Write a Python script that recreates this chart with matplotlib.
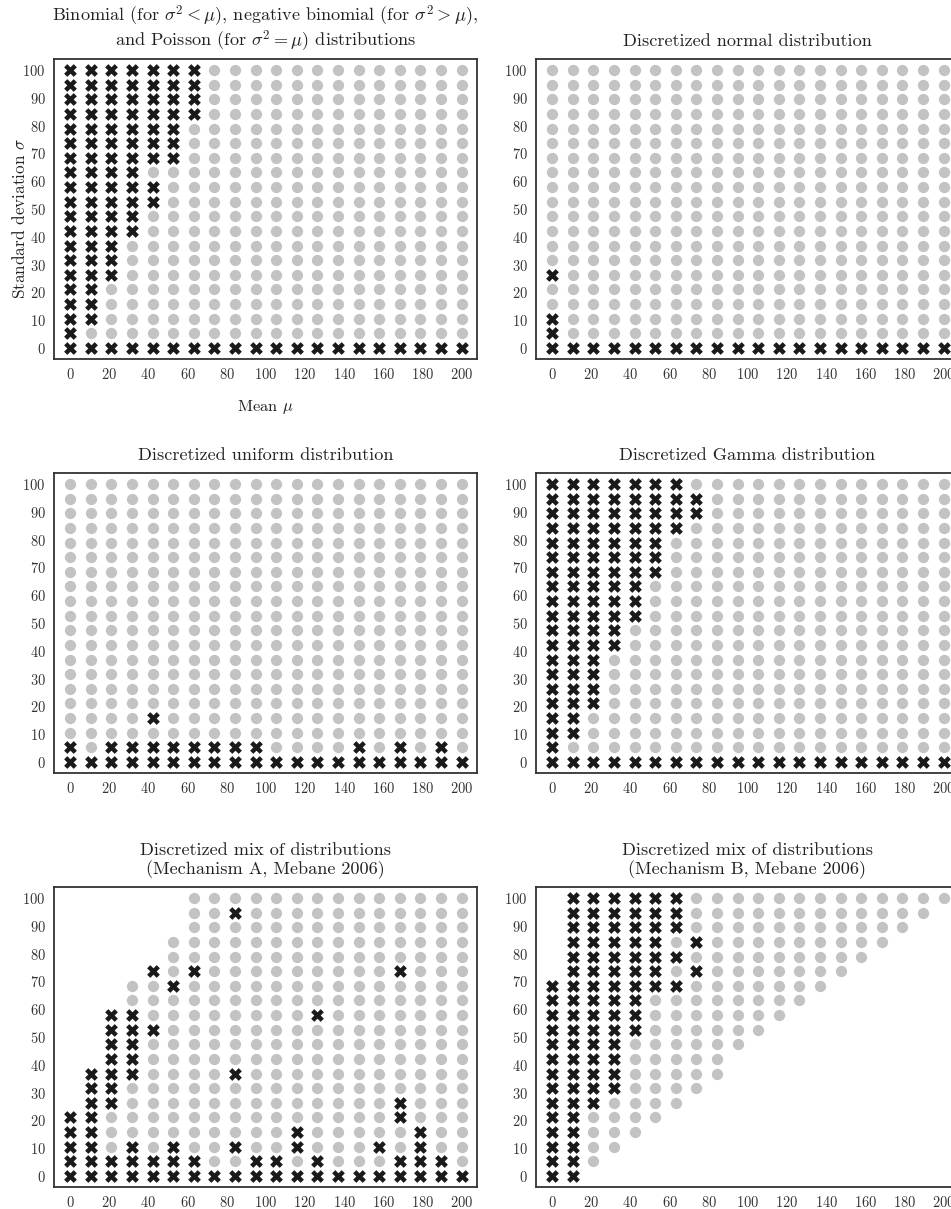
import matplotlib
matplotlib.use("Agg")
import matplotlib.pyplot as plt

plt.rcParams['font.family'] = ['cmr10', 'DejaVu Serif']
plt.rcParams['mathtext.fontset'] = 'cm'
plt.rcParams['axes.formatter.use_mathtext'] = True

# grid of means (x) and standard deviations (y)
mu_values = [0, 10.5, 21.1, 31.6, 42.1, 52.6, 63.2, 73.7, 84.2, 94.7,
             105.3, 115.8, 126.3, 136.8, 147.4, 157.9, 168.4, 178.9, 189.5, 200]
sigma_values = [100, 94.7, 89.5, 84.2, 78.9, 73.7, 68.4, 63.2, 57.9, 52.6,
                47.4, 42.1, 36.8, 31.6, 26.3, 21.1, 15.8, 10.5, 5.3, 0]  # rows top->bottom

x_ticks = [0, 20, 40, 60, 80, 100, 120, 140, 160, 180, 200]
y_ticks = [0, 10, 20, 30, 40, 50, 60, 70, 80, 90, 100]

# 'x' = rejected (black cross), 'o' = not rejected (grey dot), '.' = no case
grid_binomial = [
    "xxxxxxxooooooooooooo",
    "xxxxxxxooooooooooooo",
    "xxxxxxxooooooooooooo",
    "xxxxxxxooooooooooooo",
    "xxxxxxoooooooooooooo",
    "xxxxxxoooooooooooooo",
    "xxxxxxoooooooooooooo",
    "xxxxoooooooooooooooo",
    "xxxxxooooooooooooooo",
    "xxxxxooooooooooooooo",
    "xxxxoooooooooooooooo",
    "xxxxoooooooooooooooo",
    "xxxooooooooooooooooo",
    "xxxooooooooooooooooo",
    "xxxooooooooooooooooo",
    "xxoooooooooooooooooo",
    "xxoooooooooooooooooo",
    "xxoooooooooooooooooo",
    "xooooooooooooooooooo",
    "xxxxxxxxxxxxxxxxxxxx",
]
grid_normal = [
    "oooooooooooooooooooo",
    "oooooooooooooooooooo",
    "oooooooooooooooooooo",
    "oooooooooooooooooooo",
    "oooooooooooooooooooo",
    "oooooooooooooooooooo",
    "oooooooooooooooooooo",
    "oooooooooooooooooooo",
    "oooooooooooooooooooo",
    "oooooooooooooooooooo",
    "oooooooooooooooooooo",
    "oooooooooooooooooooo",
    "oooooooooooooooooooo",
    "oooooooooooooooooooo",
    "xooooooooooooooooooo",
    "oooooooooooooooooooo",
    "oooooooooooooooooooo",
    "xooooooooooooooooooo",
    "xooooooooooooooooooo",
    "xxxxxxxxxxxxxxxxxxxx",
]
grid_uniform = [
    "oooooooooooooooooooo",
    "oooooooooooooooooooo",
    "oooooooooooooooooooo",
    "oooooooooooooooooooo",
    "oooooooooooooooooooo",
    "oooooooooooooooooooo",
    "oooooooooooooooooooo",
    "oooooooooooooooooooo",
    "oooooooooooooooooooo",
    "oooooooooooooooooooo",
    "oooooooooooooooooooo",
    "oooooooooooooooooooo",
    "oooooooooooooooooooo",
    "oooooooooooooooooooo",
    "oooooooooooooooooooo",
    "oooooooooooooooooooo",
    "ooooxooooooooooooooo",
    "oooooooooooooooooooo",
    "xoxxxxxxxxooooxoxoxo",
    "xxxxxxxxxxxxxxxxxxxx",
]
grid_gamma = [
    "xxxxxxxooooooooooooo",
    "xxxxxxxxoooooooooooo",
    "xxxxxxxxoooooooooooo",
    "xxxxxxxooooooooooooo",
    "xxxxxxoooooooooooooo",
    "xxxxxxoooooooooooooo",
    "xxxxxxoooooooooooooo",
    "xxxxxooooooooooooooo",
    "xxxxxooooooooooooooo",
    "xxxxxooooooooooooooo",
    "xxxxoooooooooooooooo",
    "xxxxoooooooooooooooo",
    "xxxooooooooooooooooo",
    "xxxooooooooooooooooo",
    "xxxooooooooooooooooo",
    "xxxooooooooooooooooo",
    "xxoooooooooooooooooo",
    "xxoooooooooooooooooo",
    "xooooooooooooooooooo",
    "xxxxxxxxxxxxxxxxxxxx",
]
grid_mix_a = [
    "......oooooooooooooo",
    "......ooxooooooooooo",
    "......oooooooooooooo",
    ".....ooooooooooooooo",
    ".....ooooooooooooooo",
    "....xoxoooooooooxooo",
    "...ooxoooooooooooooo",
    "...ooooooooooooooooo",
    "..xxooooooooxooooooo",
    "..xxxooooooooooooooo",
    "..xxoooooooooooooooo",
    "..xxoooooooooooooooo",
    ".xxxooooxooooooooooo",
    ".xxooooooooooooooooo",
    ".xxoooooooooooooxooo",
    "xxooooooooooooooxooo",
    "xxoooooooooxoooooxoo",
    "xxoxoxooxooxoooxoxoo",
    "xxxxxxxooxxoxoooxxxo",
    "xxxxxxxxxxxxxxxxxxxx",
]
grid_mix_b = [
    ".xxxxxxooooooooooooo",
    ".xxxxxxoooooooooooo.",
    ".xxxxxxooooooooooo..",
    ".xxxxxoxooooooooo...",
    ".xxxxxxooooooooo....",
    ".xxxxxoxooooooo.....",
    "xxxxxxxooooooo......",
    "xxxxxoooooooo.......",
    "xxxxxooooooo........",
    "xxxxxoooooo.........",
    "xxxxoooooo..........",
    "xxxxooooo...........",
    "xxxxooooo...........",
    "xxxxoooo............",
    "xxxoooo.............",
    "xxoooo..............",
    "xxooo...............",
    "xxoo................",
    "xxo.................",
    "xx..................",
]

titles = [
    "Binomial (for $\\sigma^2 < \\mu$), negative binomial (for $\\sigma^2 > \\mu$),\n"
    "and Poisson (for $\\sigma^2 = \\mu$) distributions",
    "Discretized normal distribution",
    "Discretized uniform distribution",
    "Discretized Gamma distribution",
    "Discretized mix of distributions\n(Mechanism A, Mebane 2006)",
    "Discretized mix of distributions\n(Mechanism B, Mebane 2006)",
]
grids = [grid_binomial, grid_normal, grid_uniform, grid_gamma, grid_mix_a, grid_mix_b]

W, H = 951, 1209
fig = plt.figure(figsize=(W / 100, H / 100), dpi=100)

lefts = [54, 536]
tops = [59, 473, 887]
aw, ah = 423, 300

grey = '#c3c3c5'
black = '#1a1a1a'

for i, (grid, title) in enumerate(zip(grids, titles)):
    r, c = divmod(i, 2)
    l = lefts[c]
    t = tops[r]
    ax = fig.add_axes([l / W, 1 - (t + ah) / H, aw / W, ah / H])
    gx, gy, xx, xy = [], [], [], []
    for ri, row in enumerate(grid):
        for ci, ch in enumerate(row):
            if ch == 'o':
                gx.append(mu_values[ci]); gy.append(sigma_values[ri])
            elif ch == 'x':
                xx.append(mu_values[ci]); xy.append(sigma_values[ri])
    ax.scatter(gx, gy, s=66, marker='o', color=grey, linewidths=0, zorder=2)
    ax.scatter(xx, xy, s=84, marker='X', color=black, linewidths=0, zorder=3)
    ax.set_xlim(-8.2, 207.8)
    ax.set_ylim(-4.0, 104.0)
    ax.set_xticks(x_ticks)
    ax.set_yticks(y_ticks)
    ax.tick_params(length=0, labelsize=10.4, colors='#333333', pad=6)
    for s in ax.spines.values():
        s.set_linewidth(1.3)
        s.set_color('#333333')
    ax.set_title(title, fontsize=13.1, color='#222222', pad=9,
                 linespacing=1.0 if i == 0 else 1.2)
    if i == 0:
        ax.set_xlabel("Mean $\\mu$", fontsize=11.8, color='#222222', labelpad=11)
        ax.set_ylabel("Standard deviation $\\sigma$", fontsize=12.4, color='#222222', labelpad=1)
        ax.yaxis.set_label_coords(-0.062, 0.47)

fig.savefig("out.png", dpi=100)
